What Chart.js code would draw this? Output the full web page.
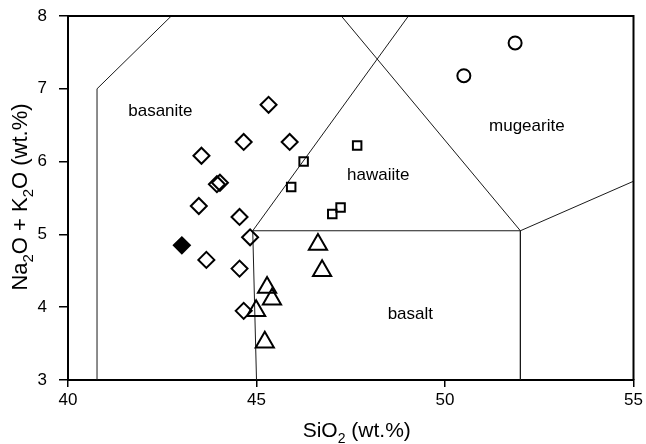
<!DOCTYPE html>
<html>
<head>
<meta charset="utf-8">
<script src="https://cdn.jsdelivr.net/npm/chart.js@4"></script>
<style>
  html, body { margin: 0; padding: 0; background: #fff; }
  #wrap { width: 646px; height: 444px; }
</style>
</head>
<body>
<div id="wrap"><canvas id="tas" width="646" height="444"></canvas></div>
<script>
// Axis extents and ticks
const xTicks = [40, 45, 50, 55];
const yTicks = [3, 4, 5, 6, 7, 8];

// Field boundaries of the TAS diagram (SiO2, Na2O+K2O vertices)
const boundaryLeft   = [[40.77, 3], [40.77, 7], [42.74, 8]];
const boundaryBasalt = [[45.0, 3], [44.9, 5.05], [52.0, 5.05], [52.0, 3]];
const boundaryRight  = [[52.0, 5.05], [55.0, 5.73]];
const boundaryMugear = [[52.0, 5.05], [47.25, 8]];
const boundaryHawaii = [[44.9, 5.05], [49.03, 8]];

// Sample groups
const diamondSiO2 = [45.32, 44.66, 45.88, 43.54, 43.95, 44.03, 43.47, 44.55, 44.83, 43.67, 44.55, 44.66];
const diamondAlk  = [6.78, 6.27, 6.27, 6.08, 5.69, 5.71, 5.39, 5.24, 4.96, 4.65, 4.53, 3.95];
const filledSiO2  = [43.02];
const filledAlk   = [4.85];
const squareSiO2  = [47.67, 46.25, 45.92, 47.23, 47.01];
const squareAlk   = [6.22, 6.00, 5.65, 5.37, 5.28];
const triangleSiO2 = [46.63, 46.74, 45.28, 45.41, 44.99, 45.22];
const triangleAlk  = [4.86, 4.50, 4.27, 4.11, 3.95, 3.52];
const circleSiO2  = [50.50, 51.86];
const circleAlk   = [7.18, 7.63];

// Field names, anchored in data units (text centre, baseline)
const fieldNames = ['basanite', 'hawaiite', 'mugearite', 'basalt'];
const fieldAnchorX = [42.45, 48.23, 52.17, 49.08];
const fieldAnchorY = [6.62, 5.75, 6.42, 3.84];

const FONT = "'Liberation Sans', Arial, Helvetica, sans-serif";

const toPoints = (xs, ys) => xs.map((x, i) => ({ x, y: ys[i] }));
const toPath = (verts) => verts.map(v => ({ x: v[0], y: v[1] }));

const lineSet = (verts) => ({
  data: toPath(verts),
  showLine: true,
  borderColor: '#1a1a1a',
  borderWidth: 1,
  pointRadius: 0,
  fill: false
});

const markerSet = (xs, ys, style, radius, filled) => ({
  data: toPoints(xs, ys),
  showLine: false,
  pointStyle: style,
  pointRadius: radius,
  pointBorderWidth: 2,
  pointBorderColor: '#000',
  pointBackgroundColor: filled ? '#000' : 'rgba(0,0,0,0)'
});

// Frame, field names and axis titles with subscripts
const decorations = {
  id: 'decorations',
  afterDraw(chart) {
    const { ctx, chartArea: a, scales: { x, y } } = chart;
    ctx.save();
    ctx.strokeStyle = '#000';
    ctx.lineWidth = 2;
    ctx.beginPath();
    ctx.moveTo(a.left, a.top);
    ctx.lineTo(a.right, a.top);
    ctx.lineTo(a.right, a.bottom);
    ctx.stroke();

    ctx.fillStyle = '#000';
    ctx.font = '17px ' + FONT;
    ctx.textAlign = 'center';
    ctx.textBaseline = 'alphabetic';
    fieldNames.forEach((name, i) => {
      ctx.fillText(name, x.getPixelForValue(fieldAnchorX[i]), y.getPixelForValue(fieldAnchorY[i]));
    });

    const drawRich = (parts, cx, cy, size) => {
      const subSize = Math.round(size * 0.68);
      const widthOf = (p) => {
        ctx.font = (p[1] ? subSize : size) + 'px ' + FONT;
        return ctx.measureText(p[0]).width;
      };
      const total = parts.reduce((s, p) => s + widthOf(p), 0);
      let px = cx - total / 2;
      ctx.textAlign = 'left';
      parts.forEach(p => {
        const w = widthOf(p);
        ctx.fillText(p[0], px, p[1] ? cy + size * 0.28 : cy);
        px += w;
      });
    };

    const midX = (a.left + a.right) / 2;
    drawRich([['SiO', false], ['2', true], [' (wt.%)', false]], midX + 6, 437, 21);

    ctx.save();
    ctx.translate(27, (a.top + a.bottom) / 2 - 1);
    ctx.rotate(-Math.PI / 2);
    drawRich([['Na', false], ['2', true], ['O + K', false], ['2', true], ['O (wt.%)', false]], 0, 0, 22);
    ctx.restore();
    ctx.restore();
  }
};

new Chart(document.getElementById('tas'), {
  type: 'scatter',
  data: {
    datasets: [
      markerSet(diamondSiO2, diamondAlk, 'rectRot', 8, false),
      markerSet(filledSiO2, filledAlk, 'rectRot', 8, true),
      markerSet(squareSiO2, squareAlk, 'rect', 6, false),
      markerSet(triangleSiO2, triangleAlk, 'triangle', 10.5, false),
      markerSet(circleSiO2, circleAlk, 'circle', 6.5, false),
      lineSet(boundaryLeft),
      lineSet(boundaryBasalt),
      lineSet(boundaryRight),
      lineSet(boundaryMugear),
      lineSet(boundaryHawaii)
    ]
  },
  options: {
    responsive: false,
    animation: false,
    layout: { padding: { top: 16, right: 12, left: 0, bottom: 0 } },
    plugins: { legend: { display: false }, tooltip: { enabled: false } },
    scales: {
      x: {
        type: 'linear',
        min: xTicks[0],
        max: xTicks[xTicks.length - 1],
        afterBuildTicks(s) { s.ticks = xTicks.map(v => ({ value: v })); },
        ticks: { color: '#000', font: { family: FONT, size: 17 }, padding: 3, maxRotation: 0 },
        grid: { drawOnChartArea: false, drawTicks: true, tickLength: 7, color: '#000', lineWidth: 1.5 },
        border: { color: '#000', width: 2 },
        afterFit(s) { s.height = 64; s.paddingLeft = 0; s.paddingRight = 0; }
      },
      y: {
        type: 'linear',
        min: yTicks[0],
        max: yTicks[yTicks.length - 1],
        afterBuildTicks(s) { s.ticks = yTicks.map(v => ({ value: v })); },
        ticks: { color: '#000', font: { family: FONT, size: 17 }, padding: 12 },
        grid: { drawOnChartArea: false, drawTicks: true, tickLength: 9, color: '#000', lineWidth: 1.5 },
        border: { color: '#000', width: 2 },
        afterFit(s) { s.width = 68; s.paddingTop = 0; s.paddingBottom = 0; }
      }
    }
  },
  plugins: [decorations]
});
</script>
</body>
</html>
